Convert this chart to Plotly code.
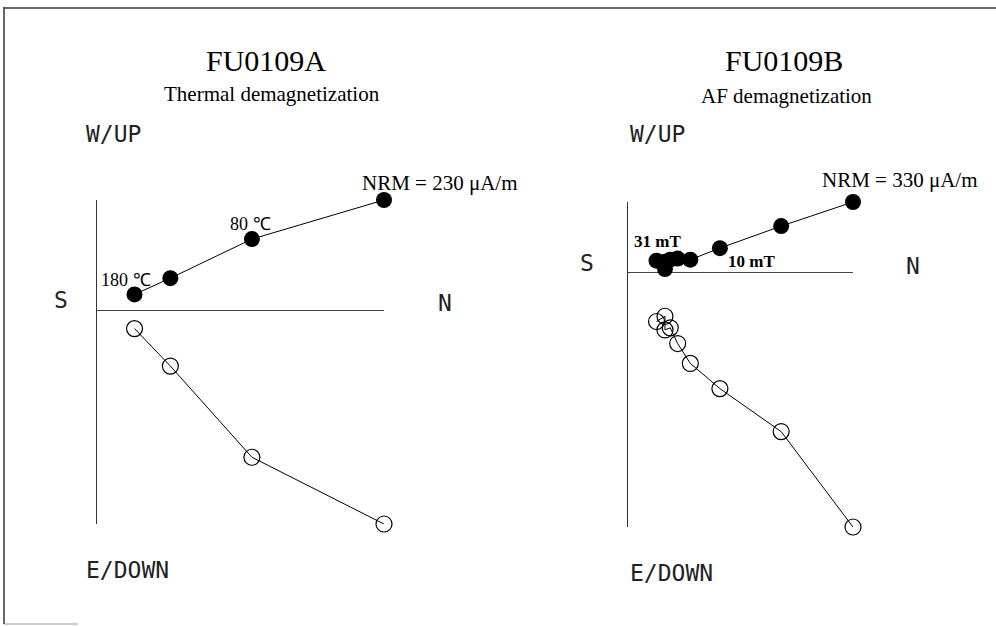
import math
import plotly.graph_objects as go

W_PX, H_PX = 996, 626

# FU0109A - thermal demagnetization (components in uA/m)
steps_a = ["NRM", "80 ℃", "", "180 ℃"]
north_a = [176, 95, 45, 23]
west_a = [68, 44, 20, 10]
down_a = [131, 90, 34, 11]

# FU0109B - AF demagnetization (components in uA/m)
steps_b = ["NRM", "", "10 mT", "", "", "", "", "", "31 mT"]
north_b = [213, 145, 87, 59, 47, 40, 35, 35, 27]
west_b = [67, 44, 23, 12, 13, 12, 10, 3, 11]
down_b = [243, 152, 111, 87, 68, 53, 55, 42, 47]


def fx(px):
    return px / W_PX


def fy(py):
    return 1 - py / H_PX


def nrm(n, w, d):
    return math.sqrt(n[0] ** 2 + w[0] ** 2 + d[0] ** 2)


fig = go.Figure()

panels = [
    ("x", "y", north_a, west_a, down_a),
    ("x2", "y2", north_b, west_b, down_b),
]
for xa, ya, n, w, d in panels:
    # horizontal projection (N vs W) - filled symbols
    fig.add_trace(go.Scatter(
        x=n, y=w, xaxis=xa, yaxis=ya, mode="lines+markers",
        line=dict(color="black", width=1),
        marker=dict(symbol="circle", size=16, color="black"),
        cliponaxis=False, showlegend=False, hoverinfo="skip"))
    # vertical projection (N vs Down) - open symbols
    fig.add_trace(go.Scatter(
        x=n, y=[-v for v in d], xaxis=xa, yaxis=ya, mode="lines+markers",
        line=dict(color="black", width=1),
        marker=dict(symbol="circle-open", size=16, color="black",
                    line=dict(width=1.2, color="black")),
        cliponaxis=False, showlegend=False, hoverinfo="skip"))

axis_common = dict(showgrid=False, showticklabels=False, ticks="", fixedrange=True)

fig.update_layout(
    width=W_PX, height=H_PX,
    margin=dict(l=0, r=0, t=0, b=0),
    paper_bgcolor="white", plot_bgcolor="white",
    xaxis=dict(domain=[fx(97), fx(384)], range=[0, max(north_a)],
               zeroline=False, showline=False, **axis_common),
    yaxis=dict(domain=[fy(524), fy(200)], range=[-max(down_a), max(west_a)],
               zeroline=True, zerolinecolor="#444", zerolinewidth=1.2,
               showline=True, linecolor="#333", linewidth=1.2, **axis_common),
    xaxis2=dict(domain=[fx(628), fx(853)], range=[0, max(north_b)],
                zeroline=False, showline=False, anchor="y2", **axis_common),
    yaxis2=dict(domain=[fy(527), fy(202)], range=[-max(down_b), max(west_b)],
                zeroline=True, zerolinecolor="#444", zerolinewidth=1.2,
                showline=True, linecolor="#333", linewidth=1.2, anchor="x2",
                **axis_common),
)

serif = "Liberation Serif"
sans = "DejaVu Sans Mono"


def label(text, px, py, size, family, xanchor="center", color="black"):
    fig.add_annotation(text=text, x=fx(px), y=fy(py), xref="paper", yref="paper",
                       xanchor=xanchor, yanchor="middle", showarrow=False,
                       font=dict(family=family, size=size, color=color))


# titles
label("FU0109A", 266, 61, 30, serif)
label("Thermal demagnetization", 272, 94, 21, serif)
label("FU0109B", 784, 61, 30, serif)
label("AF demagnetization", 786, 96, 21, serif)

# axis direction labels
for x0, xs, xn, yup, yhz, ydn in [(84, 61, 445, 134, 300, 570),
                                   (628, 587, 913, 134, 263, 573)]:
    label("W/UP", x0, yup, 23, sans, xanchor="left", color="#222")
    label("S", xs, yhz, 23, sans, color="#222")
    label("N", xn, yhz + 3, 23, sans, color="#222")
    label("E/DOWN", x0, ydn, 23, sans, xanchor="left", color="#222")

# NRM intensities
label(f"NRM = {round(nrm(north_a, west_a, down_a), -1):.0f} μA/m", 360, 183, 21, serif,
      xanchor="left")
label(f"NRM = {round(nrm(north_b, west_b, down_b), -1):.0f} μA/m", 820, 180, 21, serif,
      xanchor="left")

# demagnetization step labels
label(steps_a[1], 250, 224, 18, serif)
label(steps_a[3], 126, 280, 18, serif)
label(f"<b>{steps_b[8]}</b>", 657, 241, 17, serif)
label(f"<b>{steps_b[2]}</b>", 751, 261, 17, serif)

# border of the figure sheet
frame = dict(color="#333", width=1.5)
fig.add_shape(type="line", xref="paper", yref="paper", x0=fx(4), x1=1, y0=fy(8), y1=fy(8), line=frame)
fig.add_shape(type="line", xref="paper", yref="paper", x0=fx(4), x1=fx(4), y0=fy(7), y1=fy(624), line=frame)
fig.add_shape(type="line", xref="paper", yref="paper", x0=fx(4), x1=fx(78), y0=fy(624), y1=fy(624),
              line=dict(color="#999", width=1.2))

fig.write_html("out.html")
